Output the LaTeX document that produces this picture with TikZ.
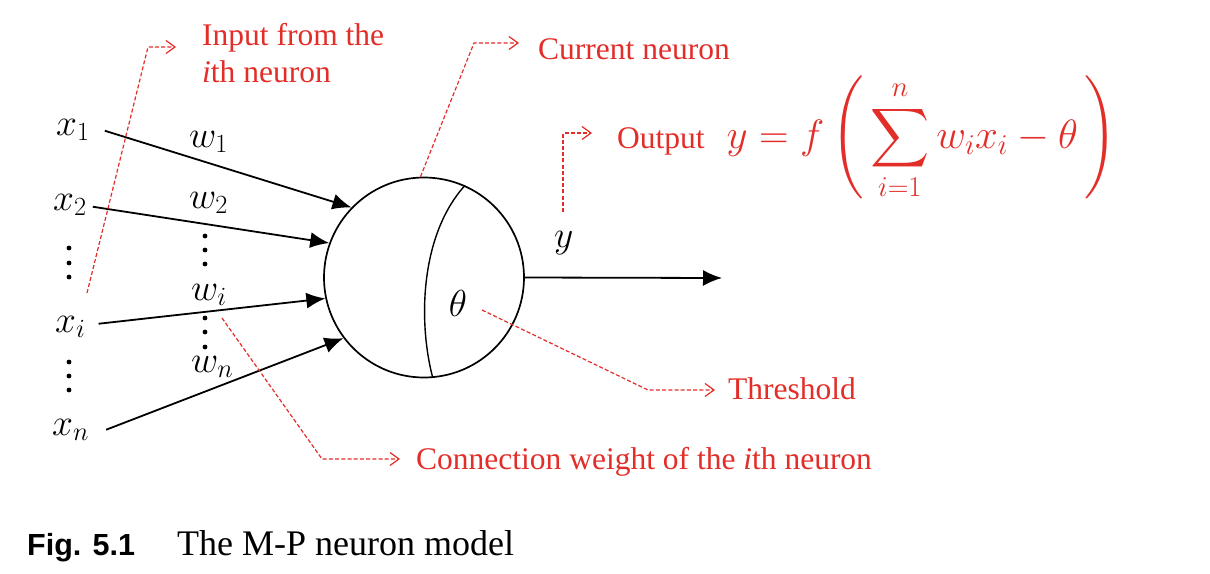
\RequirePackage{fix-cm}
\documentclass[tikz,border=0pt]{standalone}
\usepackage{exscale}
\usepackage{fontspec}
\setmainfont{Liberation Serif}
\newfontfamily\capsans{Liberation Sans}
\usetikzlibrary{arrows.meta}
\DeclareFontShape{OMX}{cmex}{m}{n}{<->cmex10}{}
\definecolor{annred}{RGB}{226,45,40}
\newcommand\annfs{\fontsize{31.5}{37}\selectfont}
\newcommand\mathfs{\fontsize{37.5}{42}\selectfont}
\newcommand\formfs{\fontsize{41}{46}\selectfont}
\begin{document}
\begin{tikzpicture}[x=1pt,y=-1pt,
  lab/.style={inner sep=0pt, font=\mathfs, anchor=base west},
  ann/.style={inner sep=0pt, text=annred, font=\annfs, align=left, anchor=base west},
  sig/.style={draw, line width=1.8pt, -{Latex[length=19pt,width=16pt]}},
  lead/.style={draw=annred, line width=1.2pt, dash pattern=on 4pt off 2.2pt, -{Straight Barb[length=9pt,width=13pt]}},
  dotc/.style={circle, fill, inner sep=0pt, minimum size=4.8pt}
]
\useasboundingbox (0,0) rectangle (1210,573);

% neuron
\node[circle, draw, line width=1.7pt, minimum size=200pt, inner sep=0pt] (neuron) at (424,277.5) {};
\draw[line width=1.4pt] (neuron.66) .. controls (420,235) and (418,322) .. (neuron.275);
\node[lab, anchor=center] (theta) at (458,303) {$\theta$};

% inputs
\node[lab] (x1) at (56,135) {$x_1$};
\node[lab] (x2) at (53,210) {$x_2$};
\node[lab] (xi) at (55,332) {$x_i$};
\node[lab] (xn) at (52,435) {$x_n$};

% weights
\node[lab] (w1) at (189,147) {$w_1$};
\node[lab] (w2) at (189,208) {$w_2$};
\node[lab] (wi) at (191,300) {$w_i$};
\node[lab] (wn) at (191,372) {$w_n$};

% dots
\foreach \yy [count=\k] in {248,263,277,362,376,390}
  \node[dotc] (ld\k) at (69,\yy) {};
\foreach \yy [count=\k] in {236,250,264,318,332,347}
  \node[dotc] (md\k) at (205,\yy) {};

% signal arrows
\draw[sig] ([xshift=15pt,yshift=-1pt]x1.east) -- (neuron.136);
\draw[sig] ([xshift=6pt,yshift=-2pt]x2.east) -- (neuron.160);
\draw[sig] ([xshift=13pt,yshift=3pt]xi.east) -- (neuron.192);
\draw[sig] ([xshift=17pt,yshift=0pt]xn.east) -- (neuron.217);

% output
\node[lab] (y) at (554,247) {$y$};
\coordinate (outend) at (722,278);
\draw[sig] (neuron.east) -- (outend);

% annotations
\node[ann] (inp) at (202,82) {Input from the\\\textit{i}th neuron};
\coordinate (inpS) at (87,293);
\coordinate (inpC) at (148,47);
\coordinate (inpE) at (176,47);
\draw[lead] (inpS) -- (inpC) -- (inpE);

\node[ann] (cur) at (538,59) {Current neuron};
\coordinate (curC) at (474,43);
\coordinate (curE) at (519,43);
\draw[lead] (neuron.92) -- (curC) -- (curE);

\node[ann] (out) at (617,148) {Output\hspace{22pt}{\formfs$\displaystyle y=f\left(\,\sum_{i=1}^{n}w_ix_i-\theta\,\right)$}};
\coordinate (outS) at (563,212);
\coordinate (outC) at (563,133);
\coordinate (outE) at (592,133);
\draw[lead] (outS) -- (outC) -- (outE);

\node[ann] (thr) at (728,399) {Threshold};
\coordinate (thrS) at (482,310);
\coordinate (thrC) at (648,390);
\coordinate (thrE) at (715,390);
\draw[lead] (thrS) -- (thrC) -- (thrE);

\node[ann] (cw) at (416,469) {Connection weight of the \textit{i}th neuron};
\coordinate (cwS) at (222,318);
\coordinate (cwC) at (322,459);
\coordinate (cwE) at (400,459);
\draw[lead] (cwS) -- (cwC) -- (cwE);

% caption
\node[inner sep=0pt, anchor=base west, font={\capsans\bfseries\fontsize{30.5}{36}\selectfont}] (fig) at (27,555) {Fig. 5.1};
\node[inner sep=0pt, anchor=base west, font={\fontsize{36}{42}\selectfont}] (cap) at (177,555) {The M-P neuron model};
\end{tikzpicture}
\end{document}
